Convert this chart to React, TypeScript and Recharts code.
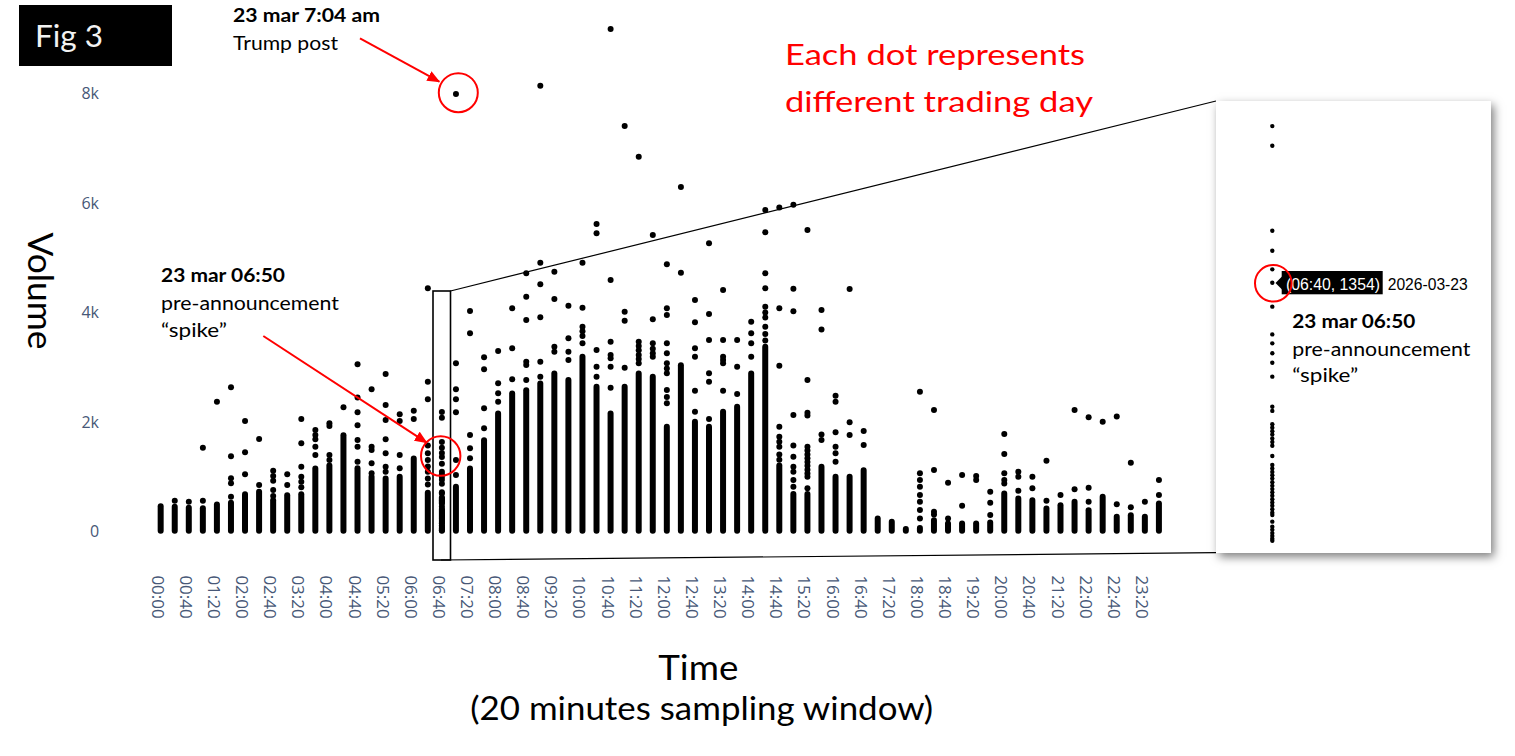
import React from 'react';
import { ComposedChart, ScatterChart, Scatter, Bar, XAxis, YAxis } from 'recharts';

// ---- tick labels ----
const timeLabels = [
  '00:00', '00:20', '00:40', '01:00', '01:20', '01:40', '02:00', '02:20', '02:40',
  '03:00', '03:20', '03:40', '04:00', '04:20', '04:40', '05:00', '05:20', '05:40',
  '06:00', '06:20', '06:40', '07:00', '07:20', '07:40', '08:00', '08:20', '08:40',
  '09:00', '09:20', '09:40', '10:00', '10:20', '10:40', '11:00', '11:20', '11:40',
  '12:00', '12:20', '12:40', '13:00', '13:20', '13:40', '14:00', '14:20', '14:40',
  '15:00', '15:20', '15:40', '16:00', '16:20', '16:40', '17:00', '17:20', '17:40',
  '18:00', '18:20', '18:40', '19:00', '19:20', '19:40', '20:00', '20:20', '20:40',
  '21:00', '21:20', '21:40', '22:00', '22:20', '22:40', '23:00', '23:20', '23:40',
];
const xTickSlots = [0, 2, 4, 6, 8, 10, 12, 14, 16, 18, 20, 22, 24, 26, 28, 30, 32, 34, 36, 38, 40, 42, 44, 46, 48, 50, 52, 54, 56, 58, 60, 62, 64, 66, 68, 70];
const yTicks = [0, 2000, 4000, 6000, 8000];

// ---- series values ----
// top of the densely packed (overlapping) stack of daily dots per 20-min slot
const slotCoreTops: (number | null)[] = [
  457, 445, 430, 420, 487, 520, 676, 719, 566, 658, 676, 1145, 1200, 1754, 1150, 993, 962, 993, 1327, 700,
  null, 810, 1145, 1663, 2150, 2515, 2576, 2698, 2880, 2759, 3185, 2637, 2150, 2637, 2880, 2819, 1906, 3032, 2000, 1906,
  2180, 2271, 2880, 3367, 1200, 680, 680, 1175, 992, 992, 1114, 231, 170, 40, 60, 200, 140, 140, 140, 160,
  688, 597, 566, 414, 475, 536, 384, 627, 262, 292, 262, 505,
];

// individual daily volumes that stand out of the dense stack, per slot
const slotDots: number[][] = [
  [], [554], [536], [1522, 554], [2362], [2624, 1364, 962, 871, 627], [2009, 1437, 1035], [1680, 840],
  [1102, 1005, 920, 749, 640], [1035, 840], [2046, 1601, 1175, 993, 900, 800], [1845, 1754, 1674, 1540, 1388],
  [1967, 1918, 1388, 1297], [2259], [3044, 2441, 2168, 1930, 1662, 1540, 1267], [2588, 1540, 1480, 1236, 1053],
  [2868, 2301, 2028, 1674, 1419, 1175, 1084], [2131, 2009, 1388, 1145], [2198, 2046],
  [4432, 2727, 2405, 1560, 1419, 1297, 1180, 1084, 960, 850],
  [],
  [7982, 3063, 2588, 2405, 2168, 1297, 1023], [4019, 3611, 1754, 1510, 1328], [3172, 2953, 2241, 1876],
  [3288, 2698, 2515, 2363], [4067, 3337, 2771], [4707, 4280, 3854, 3093, 3032, 2758],
  [8134, 4902, 4506, 3903, 3093, 2819], [4737, 4238, 3367, 3276], [4116, 3520, 3276, 3124],
  [4902, 4080, 3732, 3650, 3560, 3428], [5608, 5437, 3306, 3002, 2819],
  [9169, 4585, 3459, 3215, 3154, 3002, 2619], [7397, 4006, 3842, 2984],
  [6837, 3459, 3380, 3300, 3215, 3140, 3063], [5407, 3867, 3428, 3330, 3246, 3185],
  [4871, 4067, 3946, 3428, 3246, 3063, 2970, 2880, 2576, 2450, 2333], [6283, 4719],
  [4220, 3812, 3337, 3185, 2564, 2180], [5255, 3964, 3489, 2880, 2728, 2046],
  [4402, 3489, 3185, 3124, 3063, 2564], [3489, 3002, 2503], [3824, 3611, 3428, 3185],
  [5863, 5455, 4707, 4433, 4098, 3990, 3900, 3730, 3600, 3480],
  [5911, 4067, 3020, 1906, 1723, 1630, 1540, 1400, 1300],
  [5960, 4425, 4012, 2119, 1560, 1358, 1175, 1084, 932, 810],
  [5497, 2758, 2160, 2110, 1540, 1470, 1400, 1330, 1260, 1190, 1120, 1050, 990, 780],
  [4036, 3683, 1765, 1662], [2472, 2362, 1802, 1540, 1419, 1266], [4420, 1985, 1753], [1826, 1571],
  [], [], [], [2545, 1053, 931, 810, 658, 536, 384, 231], [2210, 1114, 353, 300], [883, 231], [1023, 463],
  [1005, 931], [718, 518, 292], [1771, 1406, 1053, 931, 870], [1084, 992, 737], [992, 779], [1285, 554],
  [658], [2210, 761], [2076, 792, 536], [1997], [2094, 487], [1248, 432], [536], [931, 658],
];

// 06:40 slot: every trading day (shown in the zoomed inset and in the main chart)
const SPIKE_SLOT = 20;
const spikeSlotValues = [
  2173, 2070, 1626, 1521, 1424, 1354, 1229, 1084, 1037, 985, 936, 863, 706, 684,
  614, 596, 578, 560, 540, 521, 502, 448, 401, 383, 365, 348, 330, 311, 292, 275,
  258, 240, 222, 205, 188, 170, 152, 140, 105, 78, 62, 45, 30, 16, 5,
];

// ---- tables built for the library ----
const DOT_R = 3;
const CORE_PAD = 52;
const coreTable = slotCoreTops.map((t, i) => ({ x: i, core: t == null ? null : [-CORE_PAD, t + CORE_PAD] }));
const dotTable = slotDots.flatMap((vals, i) =>
  (i === SPIKE_SLOT ? spikeSlotValues : vals).map((v) => ({ x: i, y: v }))
);
const spikeTable = spikeSlotValues.map((v) => ({ x: SPIKE_SLOT, y: v }));

const RED = '#ff0000';
const TICK_COLOR = '#475877';
const SANS = "Lato, 'Open Sans', sans-serif";
const TICK_FONT = "'Open Sans', sans-serif";

const fmtK = (v: number) => (v === 0 ? '0' : `${v / 1000}k`);

const XTick = (props: any) => {
  const { x, y, payload } = props;
  return (
    <text
      transform={`translate(${x - 2.5},${y + 17}) rotate(90)`}
      x={0}
      y={0}
      textAnchor="start"
      dominantBaseline="central"
      fill={TICK_COLOR}
      fontSize={17}
      fontFamily={TICK_FONT}
    >
      {timeLabels[payload.value]}
    </text>
  );
};

const YTick = (props: any) => {
  const { x, y, payload } = props;
  return (
    <text x={x} y={y} textAnchor="end" dominantBaseline="central" fill={TICK_COLOR} fontSize={16} fontFamily={TICK_FONT}>
      {fmtK(payload.value)}
    </text>
  );
};

const renderDot = (p: any) => <circle cx={p.cx} cy={p.cy} r={DOT_R} fill="#000" />;
const renderSmallDot = (p: any) => <circle cx={p.cx} cy={p.cy} r={2.2} fill="#000" />;

const T = (props: any) => {
  const { children, w, ...rest } = props;
  return (
    <text fontFamily={SANS} textLength={w} lengthAdjust="spacingAndGlyphs" {...rest}>
      {children}
    </text>
  );
};

export default function App() {
  return (
    <div style={{ position: 'absolute', left: 0, top: 0, width: 1515, height: 756, background: '#fff', overflow: 'hidden' }}>
      <div style={{ position: 'absolute', left: 0, top: 0 }}>
        <ComposedChart width={1180} height={640} data={coreTable} margin={{ top: 10.9, right: 7, bottom: 1.6, left: 86.64 }}>
          <XAxis
            type="number"
            dataKey="x"
            domain={[-1, 72]}
            ticks={xTickSlots}
            interval={0}
            allowDataOverflow
            tickLine={false}
            axisLine={false}
            tickSize={0}
            tickMargin={0}
            height={80}
            tick={<XTick />}
          />
          <YAxis
            type="number"
            domain={[-500, 9500]}
            ticks={yTicks}
            allowDataOverflow
            tickLine={false}
            axisLine={false}
            tickSize={0}
            tickMargin={47.6}
            width={60}
            tick={<YTick />}
          />
          <Bar dataKey="core" barSize={6} fill="#000" radius={3} isAnimationActive={false} />
          <Scatter data={dotTable} dataKey="y" fill="#000" shape={renderDot} isAnimationActive={false} />
        </ComposedChart>
      </div>

      {/* zoom-in rectangle and connector lines */}
      <svg width={1515} height={756} style={{ position: 'absolute', left: 0, top: 0, pointerEvents: 'none' }}>
        <rect x={433} y={291} width={17.5} height={269} fill="none" stroke="#000" strokeWidth={1.6} />
        <line x1={450.5} y1={291} x2={1216} y2={101} stroke="#000" strokeWidth={1.2} />
        <line x1={441} y1={560} x2={1216} y2={552.7} stroke="#000" strokeWidth={1.2} />
      </svg>

      {/* inset */}
      <div
        style={{
          position: 'absolute',
          left: 1216,
          top: 101,
          width: 275,
          height: 452,
          background: '#fff',
          boxShadow: '3px 4px 9px rgba(0,0,0,0.5)',
        }}
      >
        <ScatterChart width={275} height={452} margin={{ top: 1, right: 162.4, bottom: 0, left: 0 }}>
          <XAxis type="number" dataKey="x" domain={[19, 21]} hide allowDataOverflow />
          <YAxis type="number" dataKey="y" domain={[-59, 2299]} hide allowDataOverflow />
          <Scatter data={spikeTable} fill="#000" shape={renderSmallDot} isAnimationActive={false} />
        </ScatterChart>
      </div>

      {/* annotations */}
      <svg width={1515} height={756} style={{ position: 'absolute', left: 0, top: 0, pointerEvents: 'none' }}>
        <defs>
          <marker id="arrowRed" viewBox="0 0 12 10" refX={11} refY={5} markerWidth={6.5} markerHeight={5.4} orient="auto">
            <path d="M0,0 L12,5 L0,10 z" fill={RED} />
          </marker>
        </defs>

        <rect x={19} y={5} width={153} height={61} fill="#000" />
        <T x={35} y={46.7} fontSize={30} fill="#f2f2f2" w={68}>Fig 3</T>

        <T x={233} y={21.7} fontSize={19} fontWeight={700} fill="#000" w={147}>23 mar 7:04 am</T>
        <T x={233} y={50} fontSize={19} fill="#000" w={105}>Trump post</T>
        <line x1={360} y1={38.3} x2={439.3} y2={81.7} stroke={RED} strokeWidth={2} markerEnd="url(#arrowRed)" />
        <circle cx={458.3} cy={92.7} r={19.5} fill="none" stroke={RED} strokeWidth={2} />

        <T x={785} y={65} fontSize={28.5} fill={RED} w={300}>Each dot represents</T>
        <T x={785} y={111.7} fontSize={28.5} fill={RED} w={308}>different trading day</T>

        <T x={161} y={281.7} fontSize={19.5} fontWeight={700} fill="#000" w={124}>23 mar 06:50</T>
        <T x={161} y={310} fontSize={19.5} fill="#000" w={178}>pre-announcement</T>
        <T x={161} y={336.7} fontSize={19.5} fill="#000" w={66}>“spike”</T>
        <line x1={263.3} y1={336} x2={426.7} y2={442.7} stroke={RED} strokeWidth={2} markerEnd="url(#arrowRed)" />
        <circle cx={440.7} cy={456} r={19.7} fill="none" stroke={RED} strokeWidth={2} />

        <T transform="translate(41,291) rotate(90)" x={0} y={0} fontSize={34} textAnchor="middle" dominantBaseline="central" fill="#000" w={117}>Volume</T>
        <T x={698.3} y={680} fontSize={35} textAnchor="middle" fill="#000" w={80}>Time</T>
        <T x={701.7} y={720} fontSize={33} textAnchor="middle" fill="#000" w={463}>(20 minutes sampling window)</T>

        {/* inset tooltip + notes */}
        <rect x={1281.7} y={271} width={101} height={23.3} fill="#000" />
        <polygon points="1275.5,283 1282,276.5 1282,289.5" fill="#000" />
        <text x={1286} y={289.5} fontSize={16} fill="#fff" fontFamily="'Liberation Sans', Arial, sans-serif" textLength={94} lengthAdjust="spacingAndGlyphs">(06:40, 1354)</text>
        <text x={1387.7} y={289.5} fontSize={16} fill="#000" fontFamily="'Liberation Sans', Arial, sans-serif" textLength={80} lengthAdjust="spacingAndGlyphs">2026-03-23</text>
        <circle cx={1273.3} cy={283.3} r={18.3} fill="none" stroke={RED} strokeWidth={2} />
        <T x={1292.3} y={328.3} fontSize={19.5} fontWeight={700} fill="#000" w={123}>23 mar 06:50</T>
        <T x={1292.3} y={356} fontSize={19.5} fill="#000" w={178}>pre-announcement</T>
        <T x={1292.3} y={381.5} fontSize={19.5} fill="#000" w={66}>“spike”</T>
      </svg>
    </div>
  );
}
